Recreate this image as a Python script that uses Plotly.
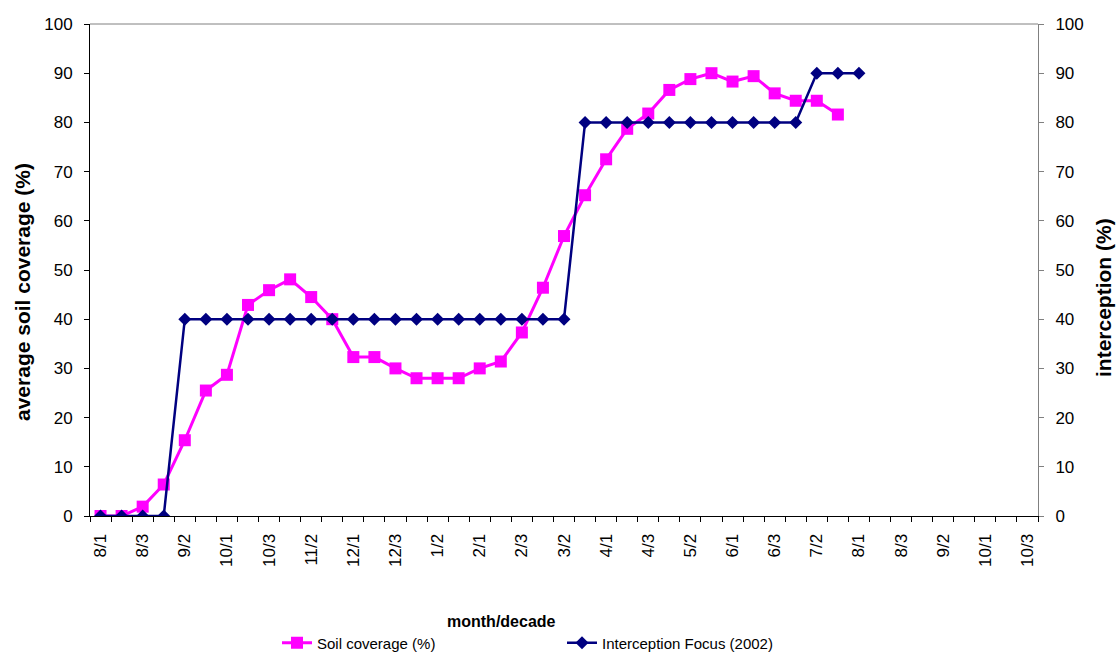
import plotly.graph_objects as go

# month/decade categories, August of one year through October of the next
decades = [
    "8/1", "8/2", "8/3", "9/1", "9/2", "9/3", "10/1", "10/2", "10/3",
    "11/1", "11/2", "11/3", "12/1", "12/2", "12/3",
    "1/1", "1/2", "1/3", "2/1", "2/2", "2/3", "3/1", "3/2", "3/3",
    "4/1", "4/2", "4/3", "5/1", "5/2", "5/3", "6/1", "6/2", "6/3",
    "7/1", "7/2", "7/3", "8/1", "8/2", "8/3", "9/1", "9/2", "9/3",
    "10/1", "10/2", "10/3",
]

# average soil coverage (%)
soil_coverage = [
    0, 0, 1.9, 6.4, 15.4, 25.5, 28.7, 42.9, 45.9, 48.1,
    44.5, 40.0, 32.3, 32.3, 30.0, 28.0, 28.0, 28.0, 30.0, 31.4,
    37.3, 46.4, 56.9, 65.2, 72.5, 78.7, 81.8, 86.6, 88.8, 90.0,
    88.3, 89.4, 85.9, 84.4, 84.4, 81.6,
]

# interception, Focus (2002) (%)
interception = [
    0, 0, 0, 0, 40, 40, 40, 40, 40, 40,
    40, 40, 40, 40, 40, 40, 40, 40, 40, 40,
    40, 40, 40, 80, 80, 80, 80, 80, 80, 80,
    80, 80, 80, 80, 90, 90, 90,
]

n = len(decades)
x_soil = list(range(len(soil_coverage)))
x_int = list(range(len(interception)))
label_idx = list(range(0, n, 2))
label_txt = [decades[i] for i in label_idx]
boundaries = [i - 0.5 for i in range(n + 1)]

FONT = "Liberation Sans, Arial, sans-serif"
W, H = 1116, 655
L, R, T, B = 90, 78, 24, 139
pw, ph = W - L - R, H - T - B


def px_x(px):
    return (px - L) / pw


def px_y(py):
    return (H - B - py) / ph


fig = go.Figure()
fig.add_trace(go.Scatter(
    x=x_soil, y=soil_coverage, name="Soil coverage (%)",
    mode="lines+markers",
    line=dict(color="#FF00FF", width=3),
    marker=dict(symbol="square", size=12, color="#FF00FF"),
    xaxis="x", yaxis="y",
))
fig.add_trace(go.Scatter(
    x=x_int, y=interception, name="Interception Focus (2002)",
    mode="lines+markers",
    line=dict(color="#000080", width=2.5),
    marker=dict(symbol="diamond", size=10, color="#000080"),
    xaxis="x", yaxis="y2",
))

xr = [-0.5, n - 0.5]
yr = [0, 100]
tickfont = dict(family=FONT, size=17, color="black")

fig.update_layout(
    width=W, height=H,
    margin=dict(l=L, r=R, t=T, b=B, autoexpand=False),
    paper_bgcolor="white", plot_bgcolor="white",
    font=dict(family=FONT, color="black"),
    showlegend=True,
    legend=dict(
        orientation="h", x=px_x(277), xanchor="left",
        y=px_y(643), yanchor="middle",
        font=dict(family=FONT, size=15, color="black"),
        entrywidth=240, bgcolor="rgba(0,0,0,0)",
    ),
    xaxis=dict(
        range=xr, tickmode="array", tickvals=label_idx, ticktext=label_txt,
        tickangle=-90, ticks="", tickfont=tickfont, ticklabelstandoff=10,
        showline=True, linecolor="black", linewidth=1,
        showgrid=False, zeroline=False,
        minor=dict(tickmode="array", tickvals=boundaries, ticks="outside",
                   ticklen=5, tickcolor="black", tickwidth=1, showgrid=False),
    ),
    xaxis2=dict(
        range=xr, overlaying="x", anchor="y", side="bottom",
        tickmode="array", tickvals=boundaries, ticks="inside", ticklen=5,
        tickcolor="black", showticklabels=False, showline=False,
        showgrid=False, zeroline=False,
    ),
    yaxis=dict(
        range=yr, tickmode="linear", tick0=0, dtick=10,
        ticks="outside", ticklen=5, tickcolor="black", tickfont=tickfont,
        ticklabelstandoff=8,
        showline=True, linecolor="black", linewidth=1,
        showgrid=False, zeroline=False,
    ),
    yaxis2=dict(
        range=yr, overlaying="y", anchor="x", side="right",
        tickmode="linear", tick0=0, dtick=10,
        ticks="outside", ticklen=5, tickcolor="#808080", tickfont=tickfont,
        ticklabelstandoff=8,
        showline=True, linecolor="#808080", linewidth=1,
        showgrid=False, zeroline=False,
    ),
    yaxis3=dict(
        range=yr, overlaying="y", anchor="x", side="left",
        tickmode="linear", tick0=0, dtick=10, ticks="inside", ticklen=5,
        tickcolor="black", showticklabels=False, showline=False,
        showgrid=False, zeroline=False,
    ),
    yaxis4=dict(
        range=yr, overlaying="y", anchor="x", side="right",
        tickmode="linear", tick0=0, dtick=10, ticks="inside", ticklen=5,
        tickcolor="#808080", showticklabels=False, showline=False,
        showgrid=False, zeroline=False,
    ),
    shapes=[dict(
        type="line", xref="paper", yref="paper", x0=0, x1=1, y0=1, y1=1,
        line=dict(color="#808080", width=1),
    )],
    annotations=[
        dict(text="<b>month/decade</b>", xref="paper", yref="paper",
             x=px_x(501), y=px_y(621), xanchor="center", yanchor="middle",
             showarrow=False, font=dict(family=FONT, size=16, color="black")),
        dict(text="<b>average soil coverage (%)</b>", xref="paper", yref="paper",
             x=px_x(22), y=px_y(292), xanchor="center", yanchor="middle",
             textangle=-90, showarrow=False,
             font=dict(family=FONT, size=21, color="black")),
        dict(text="<b>interception (%)</b>", xref="paper", yref="paper",
             x=px_x(1103), y=px_y(298), xanchor="center", yanchor="middle",
             textangle=-90, showarrow=False,
             font=dict(family=FONT, size=21, color="black")),
    ],
)

fig.write_html("out.html")
